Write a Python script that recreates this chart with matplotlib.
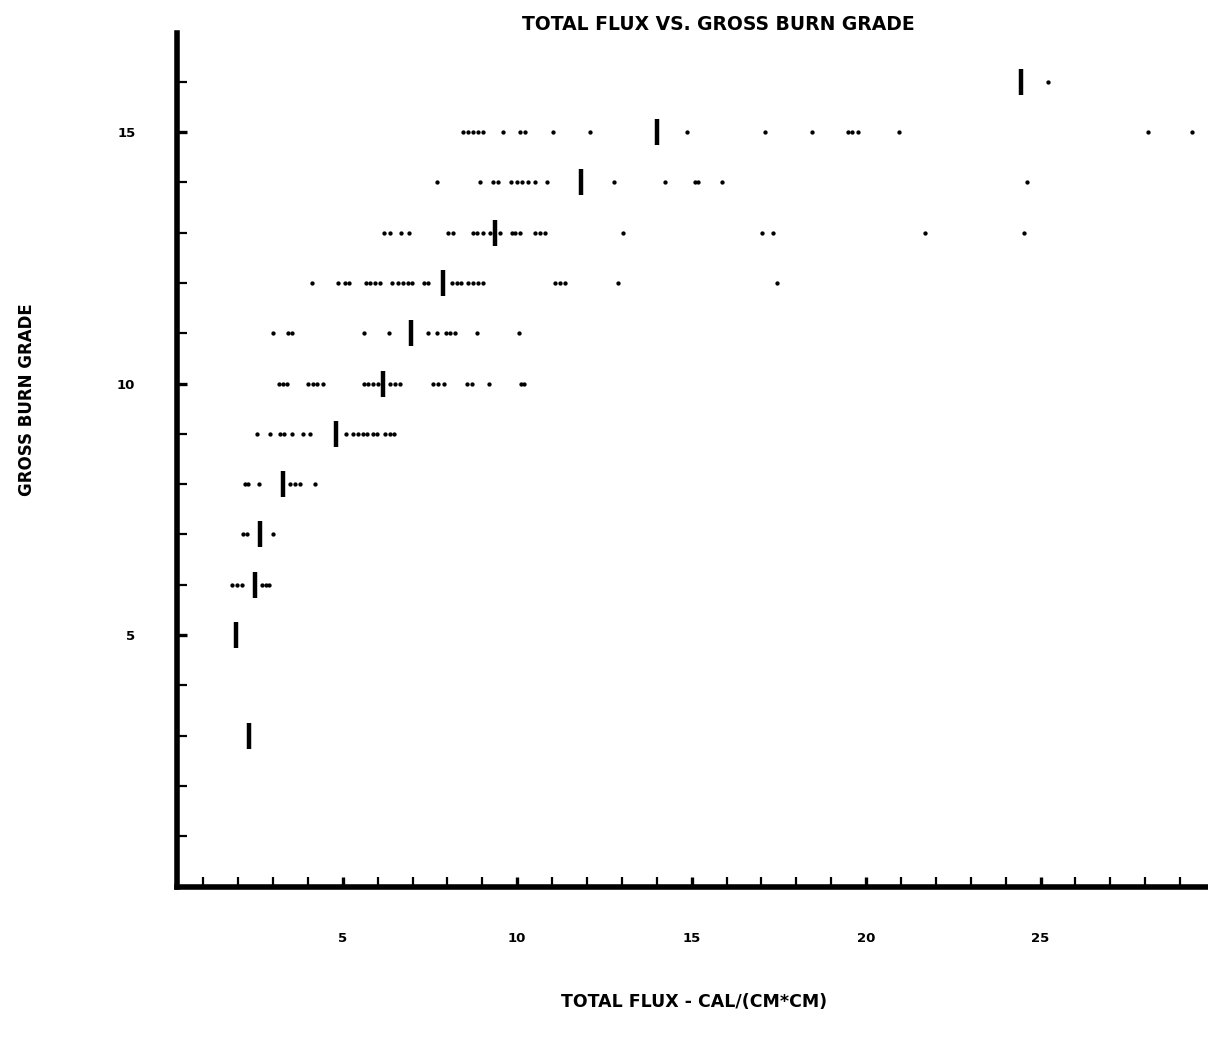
import numpy as np
import matplotlib.pyplot as plt

# flux values (cal/cm^2), one list per burn grade
grade_16 = [25.2]
grade_15 = [8.44, 8.58, 8.72, 8.87, 9.01, 9.58, 10.07, 10.21, 11.02, 12.08,
            14.86, 17.09, 18.44, 19.47, 19.61, 19.76, 20.93, 28.07, 29.33]
grade_14 = [7.69, 8.93, 9.30, 9.44, 9.81, 9.99, 10.13, 10.30, 10.50, 10.85,
            12.77, 14.23, 15.09, 15.17, 15.86, 24.6]
grade_13 = [6.17, 6.35, 6.66, 6.89, 8.01, 8.15, 8.72, 8.84, 9.01, 9.21, 9.50,
            9.84, 9.93, 10.07, 10.50, 10.64, 10.79, 13.02, 17.03, 17.32, 21.68, 24.54]
grade_12 = [4.11, 4.86, 5.06, 5.17, 5.66, 5.77, 5.92, 6.06, 6.40, 6.58, 6.72,
            6.86, 6.98, 7.32, 7.43, 8.12, 8.27, 8.38, 8.58, 8.72, 8.87, 9.01,
            11.07, 11.22, 11.36, 12.88, 17.46]
grade_11 = [3.0, 3.42, 3.54, 5.60, 6.32, 7.44, 7.69, 7.95, 8.07, 8.21, 8.84, 10.04]
grade_10 = [3.17, 3.28, 3.40, 4.00, 4.14, 4.26, 4.43, 5.60, 5.72, 5.86, 6.00,
            6.35, 6.49, 6.63, 7.58, 7.72, 7.89, 8.55, 8.70, 9.18, 10.10, 10.19]
grade_9 = [2.54, 2.91, 3.19, 3.31, 3.54, 3.85, 4.05, 5.09, 5.29, 5.43, 5.57,
           5.69, 5.87, 5.97, 6.20, 6.35, 6.46]
grade_8 = [2.19, 2.28, 2.59, 3.48, 3.62, 3.77, 4.20]
grade_7 = [2.13, 2.25, 2.99]
grade_6 = [1.82, 1.96, 2.11, 2.68, 2.79, 2.88]
grade_5 = []
grade_3 = []

grades = [16, 15, 14, 13, 12, 11, 10, 9, 8, 7, 6, 5, 3]
points = [grade_16, grade_15, grade_14, grade_13, grade_12, grade_11, grade_10,
          grade_9, grade_8, grade_7, grade_6, grade_5, grade_3]

# the heavy vertical bars drawn at one flux value per grade
bar_flux = [24.45, 14.0, 11.82, 9.36, 7.87, 6.95, 6.15, 4.80, 3.28, 2.62, 2.48, 1.93, 2.30]

x_major = [5, 10, 15, 20, 25]
y_major = [5, 10, 15]

fig = plt.figure(figsize=(12.08, 10.37), dpi=100)
fig.set_facecolor('w')
ax = fig.add_axes([177 / 1208, 1 - 886.5 / 1037, (1208 - 177) / 1208, (886.5 - 33) / 1037])

for g, xs in zip(grades, points):
    ax.plot(xs, [g] * len(xs), 'o', color='black', ms=3.1, mew=0, clip_on=False)
ax.plot(bar_flux, grades, '|', color='black', ms=19, mew=3.2, clip_on=False)

ax.set_xlim(0.25, 29.8)
ax.set_ylim(0, 16.97)

for side in ['top', 'right']:
    ax.spines[side].set_visible(False)
for side in ['left', 'bottom']:
    ax.spines[side].set_linewidth(4)

ax.set_xticks(x_major)
ax.set_xticks(np.arange(1, 30), minor=True)
ax.set_yticks(y_major)
ax.set_yticks(np.arange(1, 17), minor=True)
ax.tick_params(which='both', direction='in', width=1.6, length=7, color='black')
ax.tick_params(which='major', width=2.4)
ax.tick_params(axis='x', which='major', pad=33)
ax.tick_params(axis='y', which='major', pad=30)
for lab in ax.get_xticklabels() + ax.get_yticklabels():
    lab.set_fontsize(9.5)
    lab.set_fontweight('bold')

fig.text(718 / 1208, 1 - 25 / 1037, 'TOTAL FLUX VS. GROSS BURN GRADE',
         ha='center', va='center', fontsize=13.5, fontweight='bold')
fig.text(694 / 1208, 1 - 1002 / 1037, 'TOTAL FLUX - CAL/(CM*CM)',
         ha='center', va='center', fontsize=12.5, fontweight='bold')
fig.text(27 / 1208, 1 - 400 / 1037, 'GROSS BURN GRADE', rotation=90,
         ha='center', va='center', fontsize=12, fontweight='bold')

fig.savefig('out.png', dpi=100, facecolor='w')
